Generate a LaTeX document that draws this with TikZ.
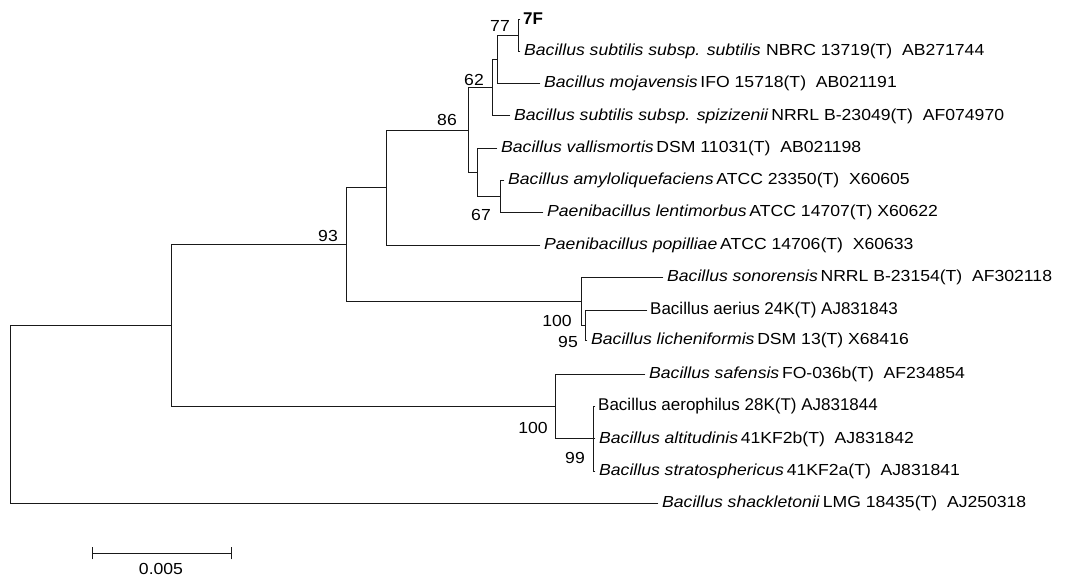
\documentclass[tikz,border=0pt]{standalone}
\usepackage{fontspec}
\setmainfont{Liberation Sans}[FakeStretch=1.1]
\newfontfamily\plainfont{Liberation Sans}
\newcommand{\sepsp}{\hspace{0.17em}}
\newcommand{\twosp}{\ \ }
\begin{document}
\begin{tikzpicture}[x=1pt,y=-1pt,
  br/.style={line width=0.9pt, black!90, line cap=rect},
  leaf/.style={anchor=west, inner xsep=4pt, inner ysep=0pt, font=\fontsize{16}{18}\selectfont},
  leafb/.style={anchor=west, inner xsep=3pt, inner ysep=0pt, font=\plainfont\fontsize{17}{19}\selectfont},
  boot/.style={inner sep=0pt, font=\fontsize{16}{18}\selectfont}]
\useasboundingbox (0,0) rectangle (1069,580);

% tips
\coordinate (t7F)    at (520,19);
\coordinate (tsub)   at (520,51.3);
\coordinate (tmoj)   at (540,83.6);
\coordinate (tspiz)  at (510,115.9);
\coordinate (tvall)  at (497,148.2);
\coordinate (tamy)   at (504,180.5);
\coordinate (tlent)  at (543,212.8);
\coordinate (tpop)   at (540,245.1);
\coordinate (tson)   at (663,277.4);
\coordinate (taer)   at (647,310.5);
\coordinate (tlich)  at (587,340);
\coordinate (tsaf)   at (645,374.3);
\coordinate (taeph)  at (595,406.6);
\coordinate (talt)   at (595,438.9);
\coordinate (tstr)   at (595,471.2);
\coordinate (tsha)   at (658,503.5);

% internal nodes
\coordinate (L) at (518,35.2);
\coordinate (G) at (497,59.4);
\coordinate (H) at (492,87.6);
\coordinate (K) at (500,196.6);
\coordinate (J) at (477,172.4);
\coordinate (I) at (468,130);
\coordinate (D) at (386,187.6);
\coordinate (M) at (585,325.9);
\coordinate (E) at (581,301.6);
\coordinate (B) at (346,244.6);
\coordinate (F) at (593,438.9);
\coordinate (C) at (555,406.6);
\coordinate (A) at (171,325.6);
\coordinate (R) at (10,414.6);

% branches
\draw[br] (R) |- (A);  \draw[br] (R) |- (tsha);
\draw[br] (A) |- (B);  \draw[br] (A) |- (C);
\draw[br] (B) |- (D);  \draw[br] (B) |- (E);
\draw[br] (D) |- (I);  \draw[br] (D) |- (tpop);
\draw[br] (I) |- (H);  \draw[br] (I) |- (J);
\draw[br] (H) |- (G);  \draw[br] (H) |- (tspiz);
\draw[br] (G) |- (L);  \draw[br] (G) |- (tmoj);
\draw[br] (L) |- (t7F); \draw[br] (L) |- (tsub);
\draw[br] (J) |- (tvall); \draw[br] (J) |- (K);
\draw[br] (K) |- (tamy); \draw[br] (K) |- (tlent);
\draw[br] (E) |- (tson); \draw[br] (E) |- (M);
\draw[br] (M) |- (taer); \draw[br] (M) |- (tlich);
\draw[br] (C) |- (tsaf); \draw[br] (C) |- (F);
\draw[br] (F) |- (taeph); \draw[br] (F) |- (talt); \draw[br] (F) |- (tstr);

% leaf labels
\node[leafb, font=\plainfont\bfseries\fontsize{17}{19}\selectfont] (n7F) at (t7F) {7F};
\node[leaf] (nsub) at (tsub) {\textit{Bacillus subtilis subsp. subtilis}\hspace{0.35em}NBRC 13719(T)\twosp AB271744};
\node[leaf] (nmoj) at (tmoj) {\textit{Bacillus mojavensis}\sepsp IFO 15718(T)\twosp AB021191};
\node[leaf] (nspiz) at (tspiz) {\textit{Bacillus subtilis subsp. spizizenii}\sepsp NRRL B-23049(T)\twosp AF074970};
\node[leaf] (nvall) at (tvall) {\textit{Bacillus vallismortis}\sepsp DSM 11031(T)\twosp AB021198};
\node[leaf] (namy) at (tamy) {\textit{Bacillus amyloliquefaciens}\sepsp ATCC 23350(T)\twosp X60605};
\node[leaf] (nlent) at (tlent) {\textit{Paenibacillus lentimorbus}\sepsp ATCC 14707(T) X60622};
\node[leaf] (npop) at (tpop) {\textit{Paenibacillus popilliae}\sepsp ATCC 14706(T)\twosp X60633};
\node[leaf] (nson) at (tson) {\textit{Bacillus sonorensis}\sepsp NRRL B-23154(T)\twosp AF302118};
\node[leafb] (naer) at (taer) {Bacillus aerius 24K(T) AJ831843};
\node[leaf] (nlich) at (tlich) {\textit{Bacillus licheniformis}\sepsp DSM 13(T) X68416};
\node[leaf] (nsaf) at (tsaf) {\textit{Bacillus safensis}\sepsp FO-036b(T)\twosp AF234854};
\node[leafb] (naeph) at (taeph) {Bacillus aerophilus 28K(T) AJ831844};
\node[leaf] (nalt) at (talt) {\textit{Bacillus altitudinis}\sepsp 41KF2b(T)\twosp AJ831842};
\node[leaf] (nstr) at (tstr) {\textit{Bacillus stratosphericus}\sepsp 41KF2a(T)\twosp AJ831841};
\node[leaf] (nsha) at (tsha) {\textit{Bacillus shackletonii}\sepsp LMG 18435(T)\twosp AJ250318};

% bootstrap values
\node[boot] (b77) at (500,26) {77};
\node[boot] (b62) at (474,80) {62};
\node[boot] (b86) at (447,120) {86};
\node[boot] (b67) at (481,215) {67};
\node[boot] (b93) at (328,236) {93};
\node[boot] (b100a) at (557,321) {100};
\node[boot] (b95) at (568,342) {95};
\node[boot] (b100b) at (533,428) {100};
\node[boot] (b99) at (575,458) {99};

% scale bar
\coordinate (s1) at (92,553);
\coordinate (s2) at (231,553);
\draw[br] (s1) -- (s2);
\draw[br] ([yshift=-6pt]s1) -- ([yshift=6pt]s1);
\draw[br] ([yshift=-6pt]s2) -- ([yshift=6pt]s2);
\node[boot, font=\fontsize{16}{18}\selectfont] (sl) at (161,569) {0.005};
\end{tikzpicture}
\end{document}
